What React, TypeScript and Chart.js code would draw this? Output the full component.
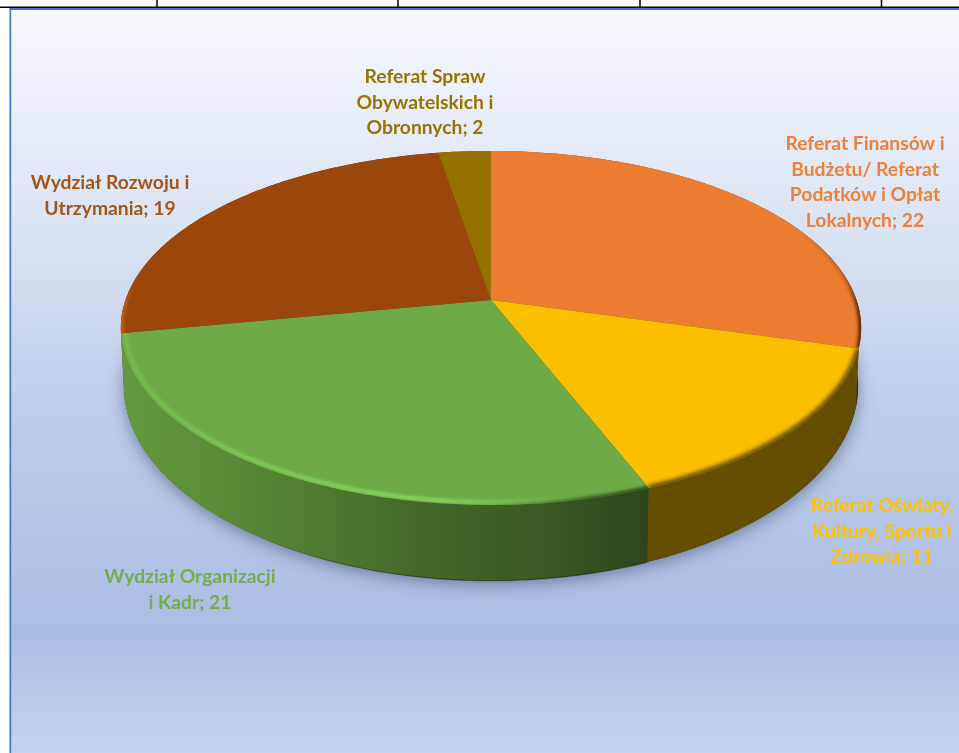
import React, { useEffect, useRef } from "react";
import { Chart, registerables } from "chart.js";

Chart.register(...registerables);

const categories = [
  "Referat Finansów i Budżetu/ Referat Podatków i Opłat Lokalnych",
  "Referat Oświaty, Kultury, Sportu i Zdrowia",
  "Wydział Organizacji i Kadr",
  "Wydział Rozwoju i Utrzymania",
  "Referat Spraw Obywatelskich i Obronnych",
];
const values = [22, 11, 21, 19, 2];
const faceColors = ["#EB7C30", "#FCBF00", "#6EAB47", "#9B470C", "#967100"];
const labelColors = ["#EE803A", "#FFC000", "#72AE4B", "#A65518", "#997300"];
const labelLines = [
  ["Referat Finansów i", "Budżetu/ Referat", "Podatków i Opłat", "Lokalnych; 22"],
  ["Referat Oświaty,", "Kultury, Sportu i", "Zdrowia; 11"],
  ["Wydział Organizacji", "i Kadr; 21"],
  ["Wydział Rozwoju i", "Utrzymania; 19"],
  ["Referat Spraw", "Obywatelskich i", "Obronnych; 2"],
];
const labelAnchors = [
  { x: 865, y: 144 },
  { x: 882, y: 506 },
  { x: 190, y: 577 },
  { x: 110, y: 183 },
  { x: 425, y: 77 },
];

const LINE_H = 25.6;
const FONT = "bold 19.3px Lato, 'Open Sans', sans-serif";
const CX = 491;
const TILT = 0.158;
const TOP = { a: 365.5, b: 172.6, y: 300 };
const BOTTOM = { a: 362.5, b: 190, y: 355 };

type Disc = { a: number; b: number; y: number };
const project = (d: Disc, angle: number, r = 1) => {
  const u = r * Math.cos(angle);
  const v = r * Math.sin(angle);
  const w = 1 - TILT * v;
  return { x: CX + (d.a * u) / w, y: d.y + (d.b * v) / w };
};
const arcPoints = (d: Disc, a0: number, a1: number, r = 1) => {
  const n = Math.max(4, Math.ceil(Math.abs(a1 - a0) * 80));
  const out = [];
  for (let i = 0; i <= n; i++) out.push(project(d, a0 + ((a1 - a0) * i) / n, r));
  return out;
};
const trace = (ctx: CanvasRenderingContext2D, pts: { x: number; y: number }[], move = true) => {
  pts.forEach((p, i) => (i === 0 && move ? ctx.moveTo(p.x, p.y) : ctx.lineTo(p.x, p.y)));
};
const hgrad = (ctx: CanvasRenderingContext2D, stops: [number, string][]) => {
  const x0 = stops[0][0];
  const x1 = stops[stops.length - 1][0];
  const g = ctx.createLinearGradient(x0, 0, x1, 0);
  stops.forEach(([x, c]) => g.addColorStop((x - x0) / (x1 - x0), c));
  return g;
};

const wallFill = (ctx: CanvasRenderingContext2D, i: number) => {
  if (i === 0) return hgrad(ctx, [[780, "#7a3f18"], [850, "#5f2d10"], [862, "#4a220c"]]);
  if (i === 1) return "#654D00";
  if (i === 2)
    return hgrad(ctx, [
      [120, "#639A3F"],
      [200, "#5C8F39"],
      [300, "#517E33"],
      [420, "#43692A"],
      [540, "#395A24"],
      [650, "#2B461B"],
    ]);
  if (i === 3) return "#7a3c0d";
  return "#5c4500";
};

const pie3d = {
  id: "pie3d",
  beforeDraw(chart: any) {
    const { ctx, width, height } = chart;
    ctx.save();
    ctx.fillStyle = "#ffffff";
    ctx.fillRect(0, 0, width, height);
    const g = ctx.createLinearGradient(0, 10, 0, height);
    g.addColorStop(0, "#F6F8FC");
    g.addColorStop(0.08, "#EEF2FB");
    g.addColorStop(0.3, "#DAE3F3");
    g.addColorStop(0.55, "#BDCCE9");
    g.addColorStop(0.84, "#AABDE3");
    g.addColorStop(1, "#C5D4EE");
    ctx.fillStyle = g;
    ctx.fillRect(10, 9, width - 10, height - 9);
    ctx.fillStyle = "#4472C4";
    ctx.fillRect(9.5, 8, 1.7, height - 8);
    ctx.fillRect(9.5, 8, width - 9.5, 2);
    ctx.fillStyle = "#000000";
    ctx.fillRect(0, 6.5, width, 1.5);
    [157, 398, 640, 881.5].forEach((x) => ctx.fillRect(x - 0.75, 0, 1.5, 7));
    ctx.restore();
  },
  beforeDatasetsDraw(chart: any) {
    const { ctx } = chart;
    const arcs = chart.getDatasetMeta(0).data;
    ctx.save();

    // ground shadow
    ctx.save();
    ctx.shadowColor = "rgba(70,85,120,0.62)";
    ctx.shadowBlur = 16;
    ctx.shadowOffsetY = 4;
    ctx.fillStyle = "#3b5a24";
    ctx.beginPath();
    trace(ctx, arcPoints(BOTTOM, -Math.PI, Math.PI));
    ctx.closePath();
    ctx.fill();
    ctx.restore();

    // side walls, back to front
    [4, 3, 0, 2, 1].forEach((i) => {
      const { startAngle, endAngle } = arcs[i];
      ctx.fillStyle = wallFill(ctx, i);
      ctx.beginPath();
      trace(ctx, arcPoints(TOP, startAngle, endAngle));
      trace(ctx, arcPoints(BOTTOM, endAngle, startAngle), false);
      ctx.closePath();
      ctx.fill();
    });

    // darker rim fading in along the lower edge of the green wall
    ctx.strokeStyle = hgrad(ctx, [
      [250, "rgba(30,45,15,0)"],
      [420, "rgba(30,45,15,0.55)"],
      [646, "rgba(30,45,15,0.55)"],
    ]);
    ctx.lineWidth = 1.4;
    ctx.beginPath();
    trace(ctx, arcPoints(BOTTOM, arcs[2].startAngle, arcs[2].endAngle - 0.8));
    ctx.stroke();

    // top face
    arcs.forEach((arc: any, i: number) => {
      const pts = arcPoints(TOP, arc.startAngle, arc.endAngle);
      const face = () => {
        ctx.beginPath();
        ctx.moveTo(CX, TOP.y);
        trace(ctx, pts, false);
        ctx.closePath();
      };
      ctx.fillStyle = faceColors[i];
      face();
      ctx.fill();

      ctx.save();
      face();
      ctx.clip();
      const edge = (r: number, w: number, style: any, blur: number) => {
        ctx.filter = `blur(${blur}px)`;
        ctx.lineWidth = w;
        ctx.strokeStyle = style;
        ctx.beginPath();
        trace(ctx, arcPoints(TOP, arc.startAngle, arc.endAngle, r));
        ctx.stroke();
      };
      if (i === 0) {
        edge(1, 6, hgrad(ctx, [[800, "rgba(90,40,10,0)"], [845, "rgba(90,40,10,0.3)"], [862, "rgba(70,30,8,0.95)"]]), 1.5);
      } else if (i === 1) {
        edge(1, 6, "rgba(70,50,0,0.85)", 2);
      } else if (i === 2) {
        edge(1, 5, hgrad(ctx, [[480, "rgba(40,65,25,0)"], [560, "rgba(40,65,25,0.55)"], [650, "rgba(40,65,25,0.95)"]]), 1.8);
        edge(0.988, 3.6, hgrad(ctx, [[120, "#74BE4D"], [300, "#82D25E"], [430, "#88DA62"], [520, "rgba(130,210,95,0.55)"], [590, "rgba(130,210,95,0)"]]), 1.5);
      } else if (i === 3) {
        edge(1, 6, hgrad(ctx, [[120, "#C9600F"], [136, "rgba(200,95,15,0)"]]), 1.2);
      }
      ctx.restore();
    });
    ctx.restore();
    return false;
  },
  afterDraw(chart: any) {
    const { ctx } = chart;
    ctx.save();
    ctx.font = FONT;
    ctx.textAlign = "center";
    ctx.textBaseline = "middle";
    labelLines.forEach((lines, i) => {
      ctx.fillStyle = labelColors[i];
      lines.forEach((line, j) => ctx.fillText(line, labelAnchors[i].x, labelAnchors[i].y + j * LINE_H));
    });
    ctx.restore();
  },
};

export default function App() {
  const ref = useRef<HTMLCanvasElement>(null);
  useEffect(() => {
    if (!ref.current) return;
    const chart = new Chart(ref.current, {
      type: "pie",
      data: {
        labels: categories,
        datasets: [{ data: values, backgroundColor: faceColors, borderWidth: 0 }],
      },
      options: {
        responsive: false,
        animation: false,
        plugins: { legend: { display: false }, tooltip: { enabled: false } },
      },
      plugins: [pie3d],
    } as any);
    return () => chart.destroy();
  }, []);
  return (
    <canvas
      ref={ref}
      width={959}
      height={753}
      style={{ position: "fixed", left: 0, top: 0, width: 959, height: 753, display: "block" }}
    />
  );
}
